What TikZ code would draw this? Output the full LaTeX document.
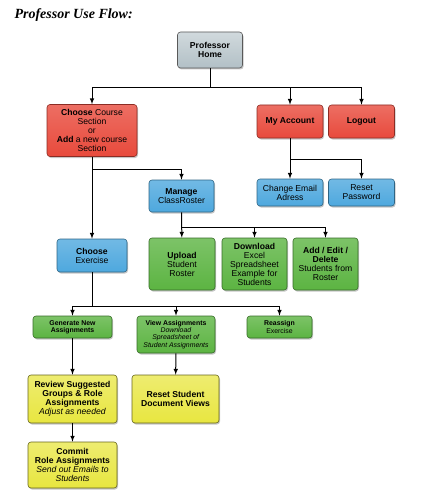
\documentclass[tikz,border=0pt]{standalone}
\usepackage{fontspec}
\setmainfont{Liberation Sans}
\newfontfamily\titlefont{Liberation Serif}
\usetikzlibrary{arrows}
\usetikzlibrary{calc}
\usetikzlibrary{shadows}
\usetikzlibrary{positioning}

\definecolor{homegray}{RGB}{178,192,198}
\definecolor{boxred}{RGB}{232,74,60}
\definecolor{boxblue}{RGB}{78,168,222}
\definecolor{boxgreen}{RGB}{92,180,66}
\definecolor{boxyellow}{RGB}{232,230,64}

\tikzset{
    box/.style={rounded corners=3pt, align=center, inner sep=0pt, line width=0.6pt,
        font=\fontsize{8.6}{9}\selectfont, drop shadow={shadow xshift=1pt, shadow yshift=-1.5pt, opacity=0.45}},
    homebox/.style={box, draw=gray!70!black, top color=homegray!60!white, bottom color=homegray},
    redbox/.style={box, draw=boxred!60!black, top color=boxred!80!white, bottom color=boxred},
    bluebox/.style={box, draw=boxblue!60!black, top color=boxblue!80!white, bottom color=boxblue},
    greenbox/.style={box, draw=boxgreen!60!black, top color=boxgreen!80!white, bottom color=boxgreen},
    yellowbox/.style={box, draw=boxyellow!45!black, top color=boxyellow!75!white, bottom color=boxyellow},
    small/.style={font=\fontsize{6.9}{7.3}\selectfont},
    link/.style={->, >=latex, line width=1pt}
}

\begin{document}
\begin{tikzpicture}[x=1pt, y=-1pt]

    \useasboundingbox (0,0) rectangle (439,500);

    \node[anchor=west, font=\titlefont\fontsize{14}{16}\selectfont\bfseries\itshape] (title) at (11,15) {Professor Use Flow:};

    % top level
    \node[homebox, minimum width=65, minimum height=36] (home) at (210,50) {\textbf{Professor}\\\textbf{Home}};

    \node[redbox, minimum width=90, minimum height=52] (course) at (92,130.5) {\textbf{Choose} Course\\Section\\or\\\textbf{Add} a new course\\Section};
    \node[redbox, minimum width=66, minimum height=33] (account) at (290,121.5) {\textbf{My Account}};
    \node[redbox, minimum width=66, minimum height=33] (logout) at (361.5,121.5) {\textbf{Logout}};

    % account
    \node[bluebox, minimum width=66, minimum height=27] (email) at (290,192.5) {Change Email\\Adress};
    \node[bluebox, minimum width=66, minimum height=27] (password) at (361.5,192.5) {Reset\\Password};

    % roster
    \node[bluebox, minimum width=65, minimum height=32] (manage) at (181.5,196) {\textbf{Manage}\\ClassRoster};
    \node[greenbox, minimum width=66, minimum height=52] (upload) at (182,264) {\textbf{Upload}\\Student\\Roster};
    \node[greenbox, minimum width=65, minimum height=52] (download) at (254.5,264) {\textbf{Download}\\Excel\\Spreadsheet\\Example for\\Students};
    \node[greenbox, minimum width=65, minimum height=52] (edit) at (325.5,264) {\textbf{Add / Edit /}\\\textbf{Delete}\\Students from\\Roster};

    % exercise
    \node[bluebox, minimum width=70, minimum height=33] (exercise) at (92,255.5) {\textbf{Choose}\\Exercise};
    \node[greenbox, small, minimum width=79, minimum height=22] (generate) at (72.5,327) {\textbf{Generate New}\\\textbf{Assignments}};
    \node[greenbox, small, minimum width=78, minimum height=37] (view) at (176,334.5) {\textbf{View Assignments}\\\textit{Download}\\\textit{Spreadsheet of}\\\textit{Student Assignments}};
    \node[greenbox, small, minimum width=65, minimum height=22] (reassign) at (279.5,327) {\textbf{Reassign}\\Exercise};

    \node[yellowbox, minimum width=89, minimum height=48] (review) at (72.5,399) {\textbf{Review Suggested}\\\textbf{Groups \& Role}\\\textbf{Assignments}\\\textit{Adjust as needed}};
    \node[yellowbox, minimum width=87, minimum height=48] (views) at (175.5,399) {\textbf{Reset Student}\\\textbf{Document Views}};
    \node[yellowbox, minimum width=89, minimum height=46] (commit) at (72.5,465) {\textbf{Commit}\\\textbf{Role Assignments}\\\textit{Send out Emails to}\\\textit{Students}};

    % branch points
    \coordinate (homesplit) at (210,88);
    \coordinate (accountsplit) at (290,159);
    \coordinate (coursesplit) at (92,169);
    \coordinate (managesplit) at (181.5,227);
    \coordinate (exercisesplit) at (92,306);

    \draw[line width=1pt] (home) -- (homesplit);
    \draw[link] (homesplit) -| (course);
    \draw[link] (homesplit) -| (account);
    \draw[link] (homesplit) -| (logout);

    \draw[line width=1pt] (account) -- (accountsplit);
    \draw[link] (accountsplit) -- (email);
    \draw[link] (accountsplit) -| (password);

    \draw[link] (course) -- (exercise);
    \draw[link] (coursesplit) -| (manage);

    \draw[link] (manage) -- (upload);
    \draw[link] (managesplit) -| (download);
    \draw[link] (managesplit) -| (edit);

    \draw[line width=1pt] (exercise) -- (exercisesplit);
    \draw[link] (exercisesplit) -| (generate);
    \draw[link] (exercisesplit) -| (view);
    \draw[link] (exercisesplit) -| (reassign);

    \draw[link] (generate) -- (review);
    \draw[link] (view) -- (views);
    \draw[link] (review) -- (commit);

\end{tikzpicture}
\end{document}
